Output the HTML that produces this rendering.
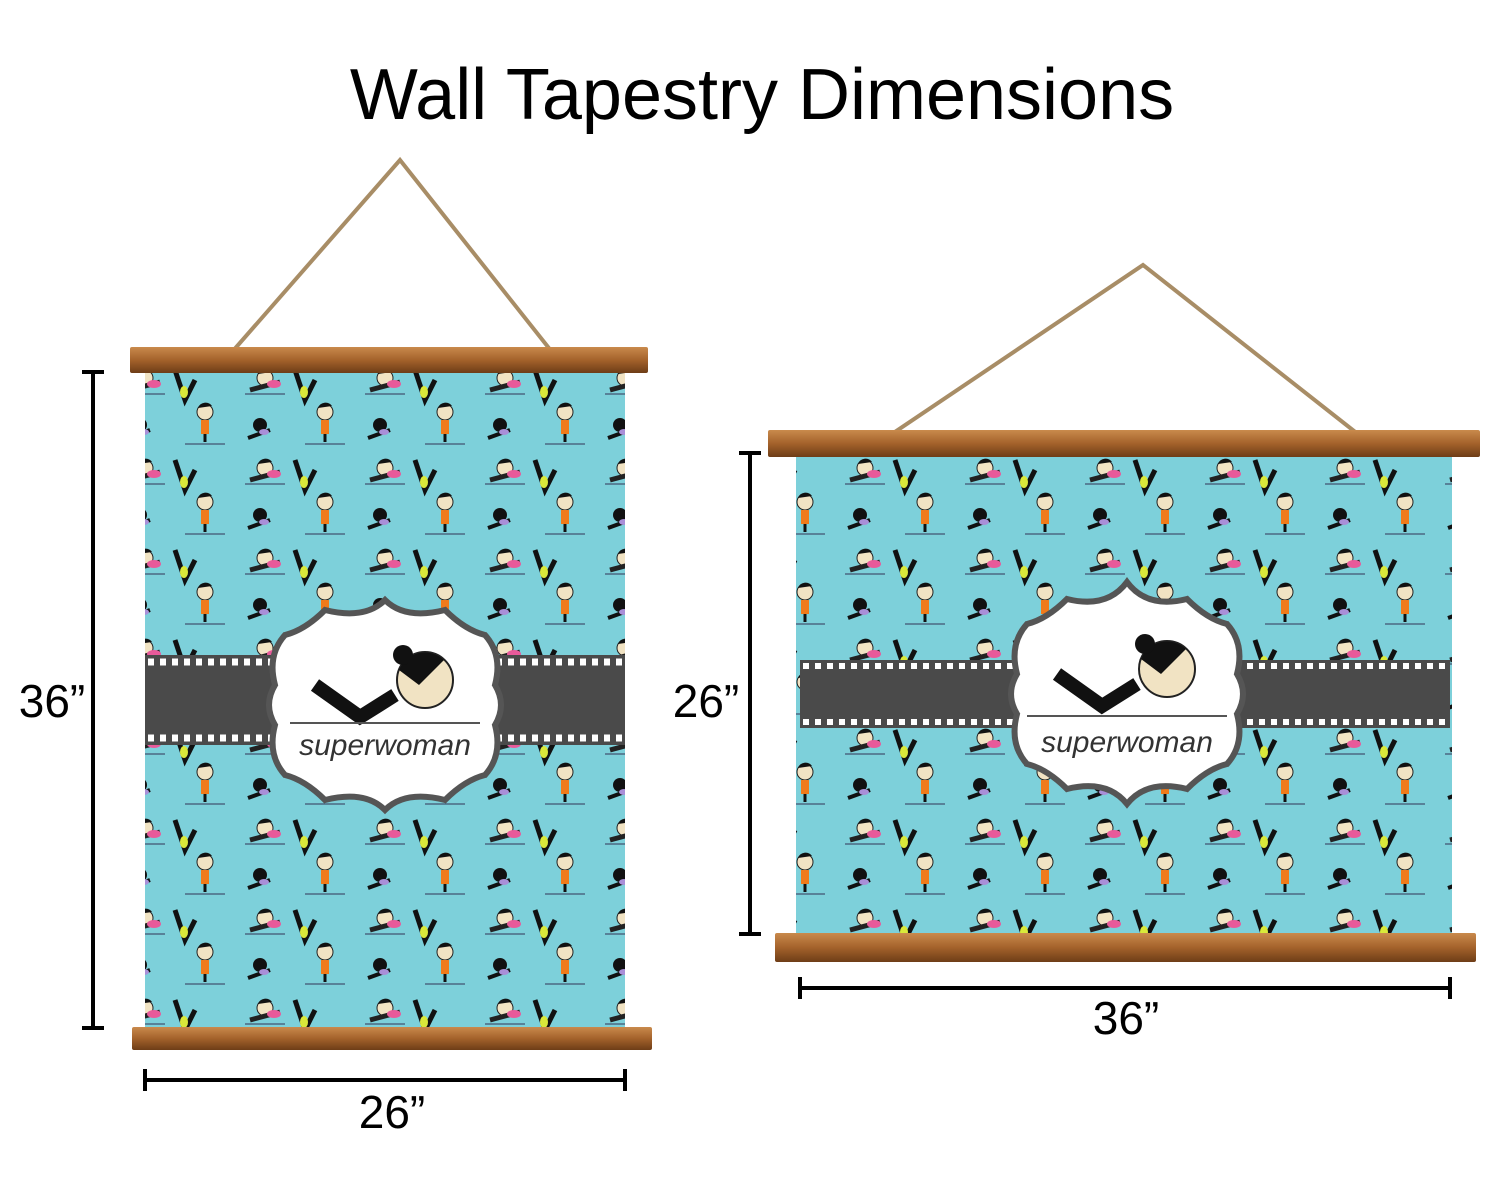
<!DOCTYPE html>
<html><head><meta charset="utf-8"><style>
html,body{margin:0;padding:0;background:#fff;}
svg{display:block;}
text{font-family:"Liberation Sans",sans-serif;}
</style></head><body>
<svg width="1500" height="1180" viewBox="0 0 1500 1180" xmlns="http://www.w3.org/2000/svg">
<defs>
  <pattern id="yoga" x="0" y="0" width="120" height="90" patternUnits="userSpaceOnUse">
    <rect width="120" height="90" fill="#7dd0da"/>
    <circle cx="25" cy="18" r="8" fill="#f1e3c3" stroke="#222" stroke-width="1"/>
    <path d="M18 14 a8 8 0 0 1 14 -2 z" fill="#111"/>
    <path d="M10 30 L40 22" stroke="#222" stroke-width="5"/>
    <ellipse cx="34" cy="24" rx="7" ry="4" fill="#e85a9a"/>
    <line x1="5" y1="34" x2="45" y2="34" stroke="#335" stroke-width="1"/>
    <circle cx="85" cy="52" r="8" fill="#f1e3c3" stroke="#222" stroke-width="1"/>
    <path d="M78 48 a8 8 0 0 1 14 -2 z" fill="#111"/>
    <rect x="81" y="60" width="8" height="14" fill="#f07a1a"/>
    <line x1="85" y1="74" x2="85" y2="82" stroke="#111" stroke-width="3"/>
    <line x1="65" y1="84" x2="105" y2="84" stroke="#335" stroke-width="1"/>
    <path d="M55 10 L65 40 L75 20" stroke="#111" stroke-width="5" fill="none"/>
    <ellipse cx="64" cy="32" rx="4" ry="6" fill="#d9e93a"/>
    <circle cx="20" cy="65" r="7" fill="#111"/>
    <path d="M8 78 L30 70" stroke="#111" stroke-width="4"/>
    <ellipse cx="24" cy="72" rx="5" ry="3" fill="#a98fd8"/>
  </pattern>
  <linearGradient id="wood" x1="0" y1="0" x2="0" y2="1">
    <stop offset="0" stop-color="#c98a4c"/>
    <stop offset="0.5" stop-color="#a4622b"/>
    <stop offset="1" stop-color="#6e3d17"/>
  </linearGradient>
</defs>

<text x="762" y="119" font-size="72" text-anchor="middle" fill="#000">Wall Tapestry Dimensions</text>

<!-- LEFT TAPESTRY -->
<polyline points="232,352 400,160 552,352" fill="none" stroke="#a88d66" stroke-width="4"/>
<rect x="145" y="368" width="480" height="662" fill="url(#yoga)"/>
<rect x="145" y="655" width="480" height="90" fill="#4a4a4a"/>
<line x1="148" y1="662" x2="622" y2="662" stroke="#fff" stroke-width="7" stroke-dasharray="6 6"/>
<line x1="148" y1="738" x2="622" y2="738" stroke="#fff" stroke-width="7" stroke-dasharray="6 6"/>
<rect x="130" y="347" width="518" height="26" rx="2" fill="url(#wood)"/>
<rect x="132" y="1027" width="520" height="23" rx="2" fill="url(#wood)"/>
<g transform="translate(385,705)">
  <path d="M-100,-70 Q-80,-75 -60,-95 Q-20,-85 0,-105 Q20,-85 60,-95 Q80,-75 100,-70 Q118,-50 110,-20 Q122,0 110,20 Q118,50 100,70 Q80,75 60,95 Q20,85 0,105 Q-20,85 -60,95 Q-80,75 -100,70 Q-118,50 -110,20 Q-122,0 -110,-20 Q-118,-50 -100,-70 Z" fill="#fff" stroke="#555" stroke-width="6"/>
  <path d="M-70,-20 L-25,12 L10,-10" stroke="#111" stroke-width="14" fill="none"/>
  <circle cx="40" cy="-25" r="28" fill="#f1e3c3" stroke="#222" stroke-width="2"/>
  <path d="M14,-35 a28 28 0 0 1 45 -10 l-25 25 z" fill="#111"/>
  <circle cx="18" cy="-50" r="10" fill="#111"/>
  <line x1="-95" y1="18" x2="95" y2="18" stroke="#555" stroke-width="2"/>
  <text x="0" y="50" font-size="30" text-anchor="middle" fill="#333" font-family="Liberation Serif,serif" font-style="italic">superwoman</text>
</g>
<!-- left dims -->
<g stroke="#000" stroke-width="4">
  <line x1="93" y1="372" x2="93" y2="1028"/>
  <line x1="82" y1="372" x2="104" y2="372"/>
  <line x1="82" y1="1028" x2="104" y2="1028"/>
  <line x1="145" y1="1080" x2="625" y2="1080"/>
  <line x1="145" y1="1069" x2="145" y2="1091"/>
  <line x1="625" y1="1069" x2="625" y2="1091"/>
</g>
<text x="52" y="717" font-size="46" text-anchor="middle" fill="#000">36”</text>
<text x="392" y="1128" font-size="46" text-anchor="middle" fill="#000">26”</text>

<!-- RIGHT TAPESTRY -->
<polyline points="880,442 1143,265 1368,442" fill="none" stroke="#a88d66" stroke-width="4"/>
<rect x="796" y="453" width="656" height="482" fill="url(#yoga)"/>
<rect x="800" y="660" width="650" height="68" fill="#4a4a4a"/>
<line x1="803" y1="666" x2="1448" y2="666" stroke="#fff" stroke-width="6" stroke-dasharray="6 6"/>
<line x1="803" y1="722" x2="1448" y2="722" stroke="#fff" stroke-width="6" stroke-dasharray="6 6"/>
<rect x="768" y="430" width="712" height="27" rx="2" fill="url(#wood)"/>
<rect x="775" y="933" width="701" height="29" rx="2" fill="url(#wood)"/>
<g transform="translate(1127,694)">
  <path d="M-100,-70 Q-80,-75 -60,-95 Q-20,-85 0,-112 Q20,-85 60,-95 Q80,-75 100,-70 Q118,-50 110,-20 Q122,0 110,20 Q118,50 100,70 Q80,75 60,95 Q20,85 0,110 Q-20,85 -60,95 Q-80,75 -100,70 Q-118,50 -110,20 Q-122,0 -110,-20 Q-118,-50 -100,-70 Z" fill="#fff" stroke="#555" stroke-width="6"/>
  <path d="M-70,-20 L-25,12 L10,-10" stroke="#111" stroke-width="14" fill="none"/>
  <circle cx="40" cy="-25" r="28" fill="#f1e3c3" stroke="#222" stroke-width="2"/>
  <path d="M14,-35 a28 28 0 0 1 45 -10 l-25 25 z" fill="#111"/>
  <circle cx="18" cy="-50" r="10" fill="#111"/>
  <line x1="-100" y1="22" x2="100" y2="22" stroke="#555" stroke-width="2"/>
  <text x="0" y="58" font-size="30" text-anchor="middle" fill="#333" font-family="Liberation Serif,serif" font-style="italic">superwoman</text>
</g>
<g stroke="#000" stroke-width="4">
  <line x1="750" y1="453" x2="750" y2="934"/>
  <line x1="739" y1="453" x2="761" y2="453"/>
  <line x1="739" y1="934" x2="761" y2="934"/>
  <line x1="800" y1="988" x2="1450" y2="988"/>
  <line x1="800" y1="977" x2="800" y2="999"/>
  <line x1="1450" y1="977" x2="1450" y2="999"/>
</g>
<text x="706" y="717" font-size="46" text-anchor="middle" fill="#000">26”</text>
<text x="1126" y="1034" font-size="46" text-anchor="middle" fill="#000">36”</text>
</svg>
</body></html>
